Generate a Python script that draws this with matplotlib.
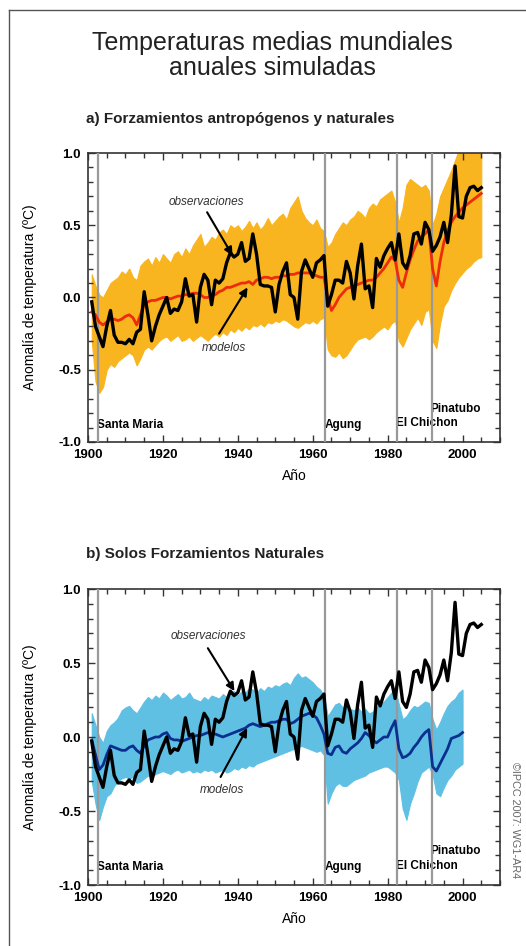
import numpy as np
import matplotlib
matplotlib.use("Agg")
import matplotlib.pyplot as plt
from matplotlib.lines import Line2D
from matplotlib.ticker import MultipleLocator

plt.rcParams['font.family'] = ['Liberation Sans', 'DejaVu Sans']

# observed annual anomalies (same in both panels)
obs_years = np.arange(1901, 2006)
obs = [-0.03, -0.20, -0.27, -0.34, -0.20, -0.09, -0.26, -0.31, -0.31, -0.32,
       -0.29, -0.32, -0.24, -0.22, 0.04, -0.12, -0.30, -0.20, -0.12, -0.06,
       0.00, -0.11, -0.08, -0.09, -0.03, 0.13, 0.01, 0.02, -0.17, 0.07,
       0.16, 0.12, -0.05, 0.12, 0.10, 0.13, 0.24, 0.31, 0.28, 0.30,
       0.38, 0.25, 0.27, 0.44, 0.30, 0.09, 0.08, 0.08, 0.07, -0.10,
       0.09, 0.18, 0.24, 0.02, 0.00, -0.15, 0.18, 0.26, 0.20, 0.14,
       0.24, 0.26, 0.29, -0.06, 0.02, 0.12, 0.12, 0.10, 0.25, 0.17,
       -0.01, 0.22, 0.37, 0.06, 0.08, -0.07, 0.27, 0.21, 0.29, 0.34,
       0.38, 0.26, 0.44, 0.24, 0.20, 0.29, 0.44, 0.45, 0.37, 0.52,
       0.47, 0.32, 0.36, 0.42, 0.52, 0.38, 0.57, 0.91, 0.56, 0.55,
       0.70, 0.76, 0.77, 0.74, 0.76]

# a) anthropogenic + natural forcing: ensemble mean and spread
all_years = np.arange(1901, 2006)
all_mean = [-0.10, -0.12, -0.17, -0.19, -0.17, -0.15, -0.15, -0.16, -0.15, -0.13,
            -0.12, -0.14, -0.19, -0.12, -0.05, -0.03, -0.02, -0.02, -0.01, 0.00,
            0.00, -0.01, 0.00, 0.01, 0.01, 0.02, 0.02, 0.03, 0.03, 0.02,
            0.00, 0.00, 0.01, 0.02, 0.04, 0.05, 0.07, 0.07, 0.08, 0.09,
            0.10, 0.10, 0.11, 0.09, 0.12, 0.13, 0.14, 0.14, 0.13, 0.14,
            0.14, 0.15, 0.15, 0.16, 0.16, 0.17, 0.17, 0.17, 0.17, 0.16,
            0.15, 0.14, 0.14, 0.00, -0.09, -0.05, 0.00, 0.03, 0.06, 0.07,
            0.08, 0.09, 0.10, 0.11, 0.12, 0.12, 0.14, 0.17, 0.20, 0.24,
            0.28, 0.26, 0.12, 0.07, 0.17, 0.26, 0.33, 0.39, 0.42, 0.44,
            0.47, 0.20, 0.08, 0.25, 0.38, 0.46, 0.52, 0.56, 0.59, 0.62,
            0.64, 0.66, 0.68, 0.70, 0.72]
all_hi = [0.16, 0.08, 0.02, 0.00, 0.05, 0.10, 0.12, 0.14, 0.18, 0.16,
          0.20, 0.14, 0.12, 0.22, 0.25, 0.27, 0.22, 0.28, 0.24, 0.30,
          0.27, 0.24, 0.30, 0.32, 0.28, 0.34, 0.30, 0.36, 0.40, 0.44,
          0.35, 0.38, 0.42, 0.40, 0.45, 0.47, 0.44, 0.50, 0.48, 0.50,
          0.46, 0.49, 0.53, 0.48, 0.52, 0.47, 0.50, 0.55, 0.50, 0.53,
          0.56, 0.58, 0.54, 0.62, 0.66, 0.70, 0.60, 0.55, 0.52, 0.50,
          0.54, 0.48, 0.46, 0.35, 0.38, 0.44, 0.48, 0.52, 0.50, 0.54,
          0.56, 0.60, 0.58, 0.55, 0.62, 0.65, 0.63, 0.68, 0.70, 0.72,
          0.74, 0.66, 0.52, 0.62, 0.78, 0.82, 0.80, 0.78, 0.76, 0.78,
          0.74, 0.50, 0.58, 0.70, 0.76, 0.82, 0.88, 0.95, 1.02, 1.02,
          1.02, 1.02, 1.02, 1.02, 1.02]
all_lo = [-0.30, -0.58, -0.66, -0.62, -0.50, -0.46, -0.48, -0.44, -0.42, -0.40,
          -0.38, -0.40, -0.47, -0.42, -0.36, -0.34, -0.36, -0.33, -0.30, -0.28,
          -0.27, -0.30, -0.28, -0.26, -0.30, -0.29, -0.27, -0.30, -0.28, -0.26,
          -0.28, -0.30, -0.27, -0.25, -0.27, -0.24, -0.26, -0.22, -0.24, -0.21,
          -0.23, -0.20, -0.22, -0.19, -0.20, -0.18, -0.20, -0.17, -0.18, -0.16,
          -0.17, -0.15, -0.16, -0.18, -0.20, -0.21, -0.19, -0.17, -0.18, -0.16,
          -0.18, -0.15, -0.14, -0.36, -0.40, -0.41, -0.38, -0.42, -0.40, -0.36,
          -0.32, -0.29, -0.28, -0.27, -0.29, -0.27, -0.24, -0.22, -0.20, -0.22,
          -0.18, -0.16, -0.30, -0.34, -0.28, -0.22, -0.18, -0.14, -0.19, -0.10,
          -0.08, -0.30, -0.35, -0.18, -0.06, -0.02, 0.05, 0.10, 0.14, 0.17,
          0.20, 0.22, 0.25, 0.27, 0.28]

# b) natural forcing only: ensemble mean and spread
nat_years = np.arange(1901, 2001)
nat_mean = [-0.02, -0.12, -0.22, -0.19, -0.12, -0.06, -0.07, -0.08, -0.09, -0.09,
            -0.07, -0.06, -0.09, -0.11, -0.06, -0.02, -0.01, 0.00, 0.00, 0.02,
            0.03, -0.01, -0.02, -0.02, -0.03, -0.02, -0.01, 0.00, 0.01, 0.01,
            0.02, 0.03, 0.02, 0.02, 0.01, 0.00, 0.01, 0.02, 0.03, 0.04,
            0.05, 0.06, 0.08, 0.09, 0.08, 0.07, 0.08, 0.09, 0.10, 0.10,
            0.11, 0.12, 0.12, 0.09, 0.10, 0.12, 0.14, 0.15, 0.16, 0.15,
            0.13, 0.08, 0.02, -0.11, -0.12, -0.07, -0.06, -0.10, -0.11, -0.08,
            -0.06, -0.04, -0.01, 0.03, 0.01, -0.02, -0.04, -0.02, 0.00, 0.00,
            0.06, 0.11, -0.08, -0.14, -0.13, -0.11, -0.07, -0.04, 0.00, 0.03,
            0.05, -0.20, -0.23, -0.18, -0.13, -0.08, -0.01, 0.00, 0.01, 0.03]
nat_hi = [0.16, 0.08, 0.00, -0.04, 0.04, 0.08, 0.10, 0.13, 0.18, 0.20,
          0.21, 0.18, 0.16, 0.20, 0.24, 0.27, 0.25, 0.28, 0.26, 0.30,
          0.28, 0.25, 0.27, 0.29, 0.26, 0.27, 0.30, 0.26, 0.25, 0.24,
          0.27, 0.25, 0.28, 0.27, 0.26, 0.29, 0.27, 0.30, 0.31, 0.28,
          0.31, 0.30, 0.33, 0.32, 0.30, 0.33, 0.31, 0.34, 0.33, 0.35,
          0.34, 0.36, 0.37, 0.35, 0.40, 0.43, 0.40, 0.41, 0.39, 0.37,
          0.34, 0.32, 0.28, 0.14, 0.18, 0.22, 0.23, 0.20, 0.21, 0.19,
          0.18, 0.20, 0.17, 0.19, 0.16, 0.17, 0.20, 0.22, 0.24, 0.27,
          0.30, 0.32, 0.22, 0.12, 0.14, 0.18, 0.21, 0.20, 0.22, 0.24,
          0.23, 0.12, 0.05, 0.10, 0.16, 0.21, 0.24, 0.26, 0.30, 0.32]
nat_lo = [-0.30, -0.45, -0.56, -0.47, -0.40, -0.38, -0.33, -0.30, -0.28, -0.27,
          -0.28, -0.27, -0.31, -0.30, -0.28, -0.26, -0.27, -0.25, -0.24, -0.23,
          -0.24, -0.25, -0.23, -0.22, -0.24, -0.23, -0.22, -0.24, -0.23, -0.24,
          -0.22, -0.23, -0.22, -0.24, -0.23, -0.22, -0.24, -0.23, -0.21, -0.22,
          -0.20, -0.21, -0.19, -0.20, -0.18, -0.17, -0.16, -0.15, -0.14, -0.13,
          -0.12, -0.11, -0.10, -0.09, -0.08, -0.07, -0.06, -0.07, -0.08, -0.09,
          -0.10, -0.09, -0.12, -0.45, -0.38, -0.33, -0.31, -0.33, -0.33, -0.31,
          -0.29, -0.28, -0.27, -0.26, -0.24, -0.23, -0.22, -0.21, -0.20, -0.20,
          -0.22, -0.24, -0.29, -0.48, -0.56, -0.45, -0.38, -0.30, -0.24, -0.22,
          -0.20, -0.25, -0.38, -0.40, -0.34, -0.29, -0.26, -0.22, -0.20, -0.18]

volcano_years = [1902.6, 1963.4, 1982.6, 1991.8]
volcano_names = ["Santa Maria", "Agung", "El Chichon", "Pinatubo"]
volcano_label_y = [-0.88, -0.88, -0.87, -0.77]

W, H = 526, 946
fig = plt.figure(figsize=(W / 100, H / 100), dpi=100)


def fx(px):
    return px / W


def fy(py):
    return 1 - py / H


# frame round the whole figure (cropped on the right)
fig.add_artist(Line2D([fx(9), fx(9)], [fy(10), fy(946)], color='#555555', lw=1))
fig.add_artist(Line2D([fx(9), fx(526)], [fy(10), fy(10)], color='#555555', lw=1))

fig.text(fx(272), fy(50), "Temperaturas medias mundiales", ha='center',
         va='baseline', fontsize=18, color='#222222')
fig.text(fx(272), fy(75), "anuales simuladas", ha='center',
         va='baseline', fontsize=18, color='#222222')


def make_panel(rect, label, label_y, years, mean, hi, lo, fill_col, mean_col,
               obs_arrow, mod_arrow):
    ax = fig.add_axes(rect)
    ax.fill_between(years, lo, hi, color=fill_col, lw=0.8, ec=fill_col, zorder=1)
    for v in volcano_years:
        ax.axvline(v, color='#999999', lw=1.6, zorder=3)
    for v, n, ly in zip(volcano_years, volcano_names, volcano_label_y):
        ax.text(v - 0.3, ly, n, fontsize=8.5, fontweight='bold',
                ha='left', va='center', zorder=2)
    ax.plot(years, mean, color=mean_col, lw=2.0, zorder=4)
    ax.plot(obs_years, obs, color='black', lw=2.4, zorder=5)

    (ot, oh, otxt), (mt, mh, mtxt) = obs_arrow, mod_arrow
    ax.annotate('', xy=oh, xytext=ot, zorder=6,
                arrowprops=dict(arrowstyle='-|>', color='black', lw=1.5,
                                mutation_scale=12, shrinkA=0, shrinkB=0))
    ax.text(otxt[0], otxt[1], "observaciones", fontsize=8.5, style='italic',
            color='#333333', ha='center', va='center')
    ax.annotate('', xy=mh, xytext=mt, zorder=6,
                arrowprops=dict(arrowstyle='-|>', color='black', lw=1.5,
                                mutation_scale=12, shrinkA=0, shrinkB=0))
    ax.text(mtxt[0], mtxt[1], "modelos", fontsize=8.5, style='italic',
            color='#333333', ha='center', va='center')

    ax.set_xlim(1900, 2010)
    ax.set_ylim(-1.0, 1.0)
    ax.xaxis.set_major_locator(MultipleLocator(20))
    ax.xaxis.set_minor_locator(MultipleLocator(5))
    ax.yaxis.set_major_locator(MultipleLocator(0.5))
    ax.yaxis.set_minor_locator(MultipleLocator(0.1))
    ax.yaxis.set_major_formatter(plt.FuncFormatter(lambda v, p: f"{v:.1f}"))
    ax.tick_params(which='both', direction='in', top=True, right=True,
                   color='#333333', width=1)
    ax.tick_params(which='major', length=5, labelsize=9.5, pad=5)
    ax.tick_params(which='minor', length=3.5)
    for t in ax.get_xticklabels() + ax.get_yticklabels():
        t.set_fontweight('bold')
    for s in ax.spines.values():
        s.set_color('#333333')
        s.set_linewidth(1.2)
    ax.set_xlabel("Año", fontsize=10, labelpad=6)
    ax.set_ylabel("Anomalía de temperatura (ºC)", fontsize=10, labelpad=15)
    fig.text(fx(86), fy(label_y), label, fontsize=11, fontweight='bold',
             ha='left', va='baseline', color='#222222')
    return ax


ax1 = make_panel([fx(88), fy(442), fx(412), 289 / H],
                 "a) Forzamientos antropógenos y naturales", 123,
                 all_years, all_mean, all_hi, all_lo, '#F9B51F', '#EE2B0C',
                 ((1931.8, 0.59), (1938.6, 0.29), (1931.6, 0.66)),
                 ((1935.0, -0.25), (1942.6, 0.07), (1936.3, -0.35)))

ax2 = make_panel([fx(88), fy(885), fx(412), 296 / H],
                 "b) Solos Forzamientos Naturales", 558,
                 nat_years, nat_mean, nat_hi, nat_lo, '#5FC0E4', '#0B2F8F',
                 ((1932.0, 0.60), (1939.1, 0.31), (1932.1, 0.68)),
                 ((1935.4, -0.27), (1942.5, 0.06), (1935.8, -0.36)))

fig.text(fx(515), fy(820), "©IPCC 2007: WG1-AR4", rotation=270, fontsize=7.8,
         color='#666666', ha='center', va='center')

fig.savefig("out.png", dpi=100)
